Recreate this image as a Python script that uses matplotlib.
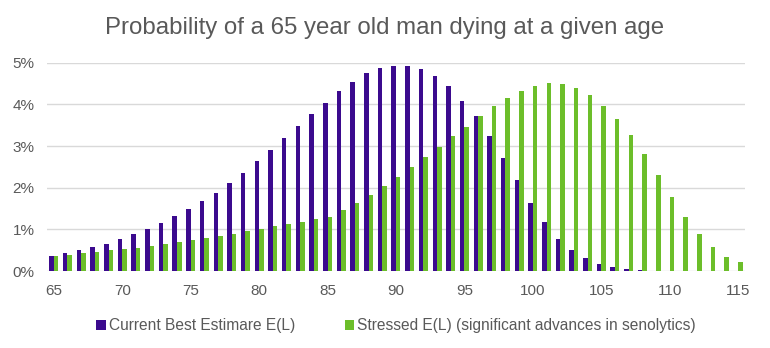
import numpy as np
import matplotlib
matplotlib.use("Agg")
import matplotlib.pyplot as plt
from matplotlib.ticker import FuncFormatter

plt.rcParams['font.family'] = ['Liberation Sans', 'DejaVu Sans']

# ages 65..115
ages = list(range(65, 116))

# probability of dying at given age, in %
current_best = [
    0.37, 0.44, 0.50, 0.58, 0.66, 0.77, 0.90, 1.02, 1.16, 1.31,
    1.49, 1.68, 1.88, 2.11, 2.36, 2.63, 2.90, 3.19, 3.48, 3.78,
    4.04, 4.31, 4.54, 4.74, 4.87, 4.93, 4.93, 4.85, 4.69, 4.44,
    4.08, 3.71, 3.23, 2.72, 2.18, 1.64, 1.17, 0.78, 0.50, 0.32,
    0.18, 0.11, 0.05, 0.02, 0.01, 0.01, 0.01, 0.01, 0.01, 0.01,
    0.01,
]
stressed = [
    0.37, 0.39, 0.43, 0.46, 0.50, 0.54, 0.56, 0.60, 0.65, 0.70,
    0.74, 0.80, 0.85, 0.90, 0.95, 1.02, 1.08, 1.14, 1.18, 1.24,
    1.30, 1.47, 1.64, 1.82, 2.03, 2.26, 2.49, 2.74, 2.98, 3.23,
    3.46, 3.73, 3.96, 4.16, 4.33, 4.44, 4.50, 4.48, 4.39, 4.23,
    3.96, 3.66, 3.27, 2.80, 2.30, 1.78, 1.29, 0.90, 0.58, 0.35,
    0.21,
]

series_names = ["Current Best Estimare E(L)",
                "Stressed E(L) (significant advances in senolytics)"]
purple = "#3B0A8E"
green = "#6CBE2A"
text_grey = "#595959"

fig = plt.figure(figsize=(7.7, 3.48), dpi=100)
ax = fig.add_axes([0.061, 0.221, 0.9065, 0.599])

x = np.arange(len(ages))
w = 0.33
ax.bar(x - w / 2, np.array(current_best) / 100, width=w, color=purple,
       label=series_names[0], zorder=3)
ax.bar(x + w / 2, np.array(stressed) / 100, width=w, color=green,
       label=series_names[1], zorder=3)

ax.set_xlim(-0.5, len(ages) - 0.5)
ax.set_ylim(0, 0.05)
ax.set_yticks(np.arange(0, 0.051, 0.01))
ax.yaxis.set_major_formatter(FuncFormatter(lambda v, p: "{:.0f}%".format(v * 100)))
tick_pos = [i for i, a in enumerate(ages) if a % 5 == 0]
ax.set_xticks(tick_pos)
ax.set_xticklabels([str(ages[i]) for i in tick_pos])

ax.grid(axis='y', color="#D9D9D9", linewidth=1, zorder=0)
for s in ax.spines.values():
    s.set_visible(False)
ax.tick_params(length=0, colors=text_grey, labelsize=11)
ax.tick_params(axis='x', pad=9)
ax.tick_params(axis='y', pad=9)

fig.text(0.5, 0.92, "Probability of a 65 year old man dying at a given age",
         color=text_grey, fontsize=17.3, ha='center', va='center')

ax.legend(loc='upper center', bbox_to_anchor=(0.5, -0.16), ncol=2,
          frameon=False, fontsize=11.2, labelcolor=text_grey,
          handlelength=0.6, handleheight=0.6, handletextpad=0.2,
          columnspacing=3.2)

fig.savefig("out.png", dpi=100)
